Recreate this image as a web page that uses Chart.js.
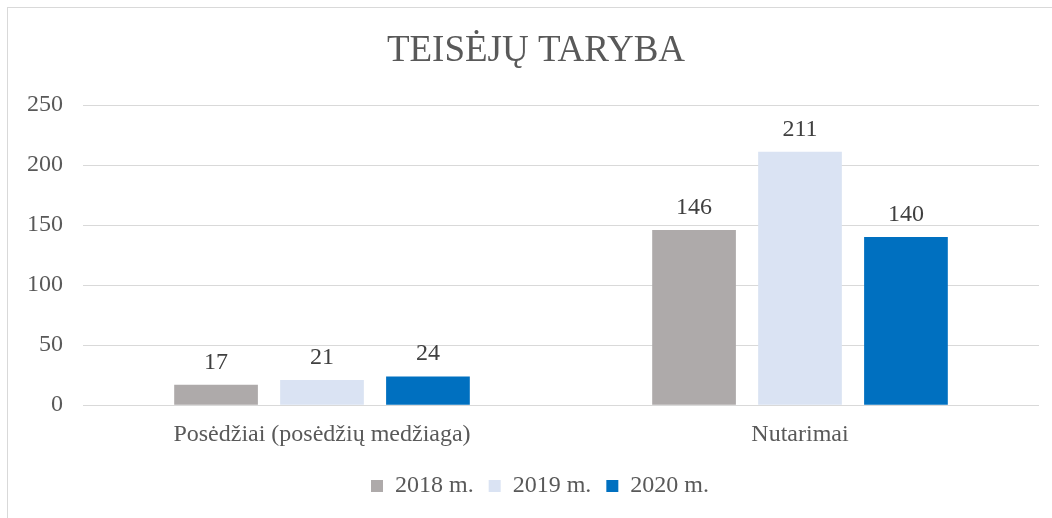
<!DOCTYPE html>
<html>
<head>
<meta charset="utf-8">
<script src="https://cdn.jsdelivr.net/npm/chart.js@4.4.1/dist/chart.umd.min.js"></script>
<style>
    html, body { margin: 0; padding: 0; background: #fff; overflow: hidden; }
    #wrap { position: relative; width: 1052px; height: 518px; }
    #frame { position: absolute; left: 7px; top: 7px; width: 1100px; height: 600px; border: 1px solid #d9d9d9; pointer-events: none; }
    canvas { position: absolute; left: 0; top: 0; }
</style>
</head>
<body>
<div id="wrap">
    <canvas id="chart" width="1052" height="518"></canvas>
    <div id="frame"></div>
</div>
<script>
const categories = ['Posėdžiai (posėdžių medžiaga)', 'Nutarimai'];
const years = ['2018 m.', '2019 m.', '2020 m.'];
const values2018 = [17, 146];
const values2019 = [21, 211];
const values2020 = [24, 140];
const yTicks = [0, 50, 100, 150, 200, 250];

const FONT = "'Liberation Serif', 'Times New Roman', serif";

// value labels above each bar
const barLabels = {
    id: 'barLabels',
    afterDatasetsDraw(chart) {
        const ctx = chart.ctx;
        ctx.save();
        ctx.font = `24px ${FONT}`;
        ctx.fillStyle = '#404040';
        ctx.textAlign = 'center';
        ctx.textBaseline = 'alphabetic';
        chart.data.datasets.forEach((ds, i) => {
            chart.getDatasetMeta(i).data.forEach((bar, j) => {
                ctx.fillText(ds.data[j], bar.x, bar.y - 16);
            });
        });
        ctx.restore();
    }
};

// the original frame is wider than the page, so title and legend sit right of centre
const nudge = (box, dx, dy) => {
    if (!box) return;
    box.left += dx; box.right += dx;
    box.top += dy; box.bottom += dy;
};
const boxShift = {
    id: 'boxShift',
    afterLayout(chart) {
        nudge(chart.titleBlock, 13, 0);
        nudge(chart.legend, 17, -5);
    }
};

const ctx = document.getElementById('chart').getContext('2d');
new Chart(ctx, {
    type: 'bar',
    data: {
        labels: categories,
        datasets: [
            { label: years[0], data: values2018, backgroundColor: '#AEAAAA' },
            { label: years[1], data: values2019, backgroundColor: '#DAE3F3' },
            { label: years[2], data: values2020, backgroundColor: '#0070C0' }
        ]
    },
    options: {
        responsive: false,
        animation: false,
        barPercentage: 0.79,
        categoryPercentage: 0.665,
        layout: { padding: { left: 7, right: 13, top: 0, bottom: 5 } },
        scales: {
            y: {
                min: yTicks[0],
                max: yTicks[yTicks.length - 1],
                afterBuildTicks: (scale) => { scale.ticks = yTicks.map(v => ({ value: v })); },
                ticks: { color: '#595959', font: { family: FONT, size: 24 }, padding: 20 },
                grid: { color: '#d9d9d9', lineWidth: 1, drawTicks: false },
                border: { display: false }
            },
            x: {
                ticks: { color: '#595959', font: { family: FONT, size: 24 }, padding: 15 },
                grid: { display: false, drawTicks: false },
                border: { display: false }
            }
        },
        plugins: {
            title: {
                display: true,
                text: 'TEISĖJŲ TARYBA',
                color: '#595959',
                font: { family: FONT, size: 37, weight: 'normal' },
                padding: { top: 29, bottom: 31.6 }
            },
            legend: {
                position: 'bottom',
                labels: {
                    color: '#595959',
                    font: { family: FONT, size: 24 },
                    boxWidth: 12,
                    boxHeight: 12,
                    padding: 15
                }
            },
            tooltip: { enabled: false }
        }
    },
    plugins: [barLabels, boxShift]
});
</script>
</body>
</html>
